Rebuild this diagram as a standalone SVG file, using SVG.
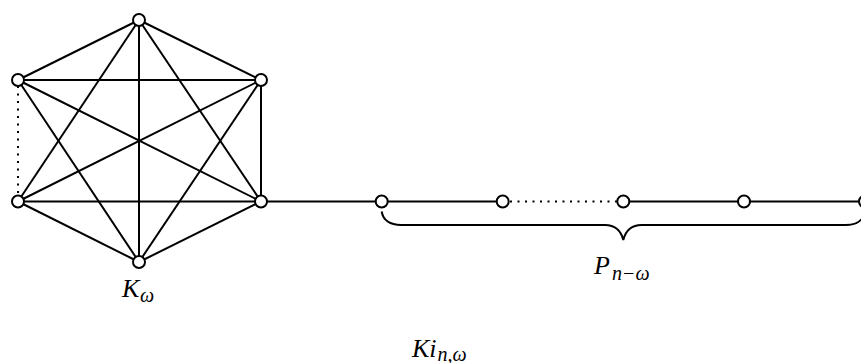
<svg xmlns="http://www.w3.org/2000/svg" width="861" height="363" viewBox="0 0 861 363">
  <style>
    .edge { stroke: #000; stroke-width: 2; fill: none; }
    .dot { stroke: #000; stroke-width: 2; fill: none; stroke-dasharray: 2 5.5; }
    .node { fill: #fff; stroke: #000; stroke-width: 2; }
    .lbl { font-family: "Liberation Serif", "DejaVu Serif", serif; font-style: italic; font-size: 26px; fill: #000; }
    .sub { font-size: 20px; }
  </style>
  <rect width="861" height="363" fill="#fff"/>
  <g id="connectors">
    <!-- complete graph on six vertices -->
    <line class="edge" x1="139" y1="20" x2="18" y2="80"/>
    <line class="edge" x1="139" y1="20" x2="261" y2="80"/>
    <line class="edge" x1="139" y1="20" x2="18" y2="201.5"/>
    <line class="edge" x1="139" y1="20" x2="261" y2="201.5"/>
    <line class="edge" x1="139" y1="20" x2="139" y2="262"/>
    <line class="edge" x1="18" y1="80" x2="261" y2="80"/>
    <line class="edge" x1="18" y1="80" x2="261" y2="201.5"/>
    <line class="edge" x1="18" y1="80" x2="139" y2="262"/>
    <line class="dot" x1="18" y1="86" x2="18" y2="196"/>
    <line class="edge" x1="261" y1="80" x2="18" y2="201.5"/>
    <line class="edge" x1="261" y1="80" x2="261" y2="201.5"/>
    <line class="edge" x1="261" y1="80" x2="139" y2="262"/>
    <line class="edge" x1="18" y1="201.5" x2="261" y2="201.5"/>
    <line class="edge" x1="18" y1="201.5" x2="139" y2="262"/>
    <line class="edge" x1="261" y1="201.5" x2="139" y2="262"/>
    <!-- pendant path -->
    <line class="edge" x1="261" y1="201.5" x2="381.7" y2="201.5"/>
    <line class="edge" x1="381.7" y1="201.5" x2="502.7" y2="201.5"/>
    <line class="dot" x1="510" y1="201.5" x2="617" y2="201.5"/>
    <line class="edge" x1="623.3" y1="201.5" x2="744" y2="201.5"/>
    <line class="edge" x1="744" y1="201.5" x2="865" y2="201.5"/>
    <!-- brace under the path -->
    <path class="edge" d="M381.7,211.5 C383,220 390,225 401,225 L605,225 C615,225 621,231 623.3,240 C625.6,231 631.6,225 641.6,225 L845.6,225 C856.6,225 863.6,220 865,211.5"/>
  </g>
  <g id="k1"><circle class="node" cx="139" cy="20" r="6"/></g>
  <g id="k2"><circle class="node" cx="18" cy="80" r="6"/></g>
  <g id="k3"><circle class="node" cx="261" cy="80" r="6"/></g>
  <g id="k4"><circle class="node" cx="18" cy="201.5" r="6"/></g>
  <g id="k5"><circle class="node" cx="261" cy="201.5" r="6"/></g>
  <g id="k6"><circle class="node" cx="139" cy="262" r="6"/></g>
  <g id="p1"><circle class="node" cx="381.7" cy="201.5" r="6"/></g>
  <g id="p2"><circle class="node" cx="502.7" cy="201.5" r="6"/></g>
  <g id="p3"><circle class="node" cx="623.3" cy="201.5" r="6"/></g>
  <g id="p4"><circle class="node" cx="744" cy="201.5" r="6"/></g>
  <g id="p5"><circle class="node" cx="865" cy="201.5" r="6"/></g>
  <g id="labels">
    <text class="lbl" y="297"><tspan x="122">K</tspan><tspan class="sub" x="140" y="302">ω</tspan></text>
    <text class="lbl" y="273.5"><tspan x="594">P</tspan><tspan class="sub" x="612" y="280">n−ω</tspan></text>
    <text class="lbl" y="356.5"><tspan x="412">Ki</tspan><tspan class="sub" x="437.5" y="360.5">n,ω</tspan></text>
  </g>
</svg>
